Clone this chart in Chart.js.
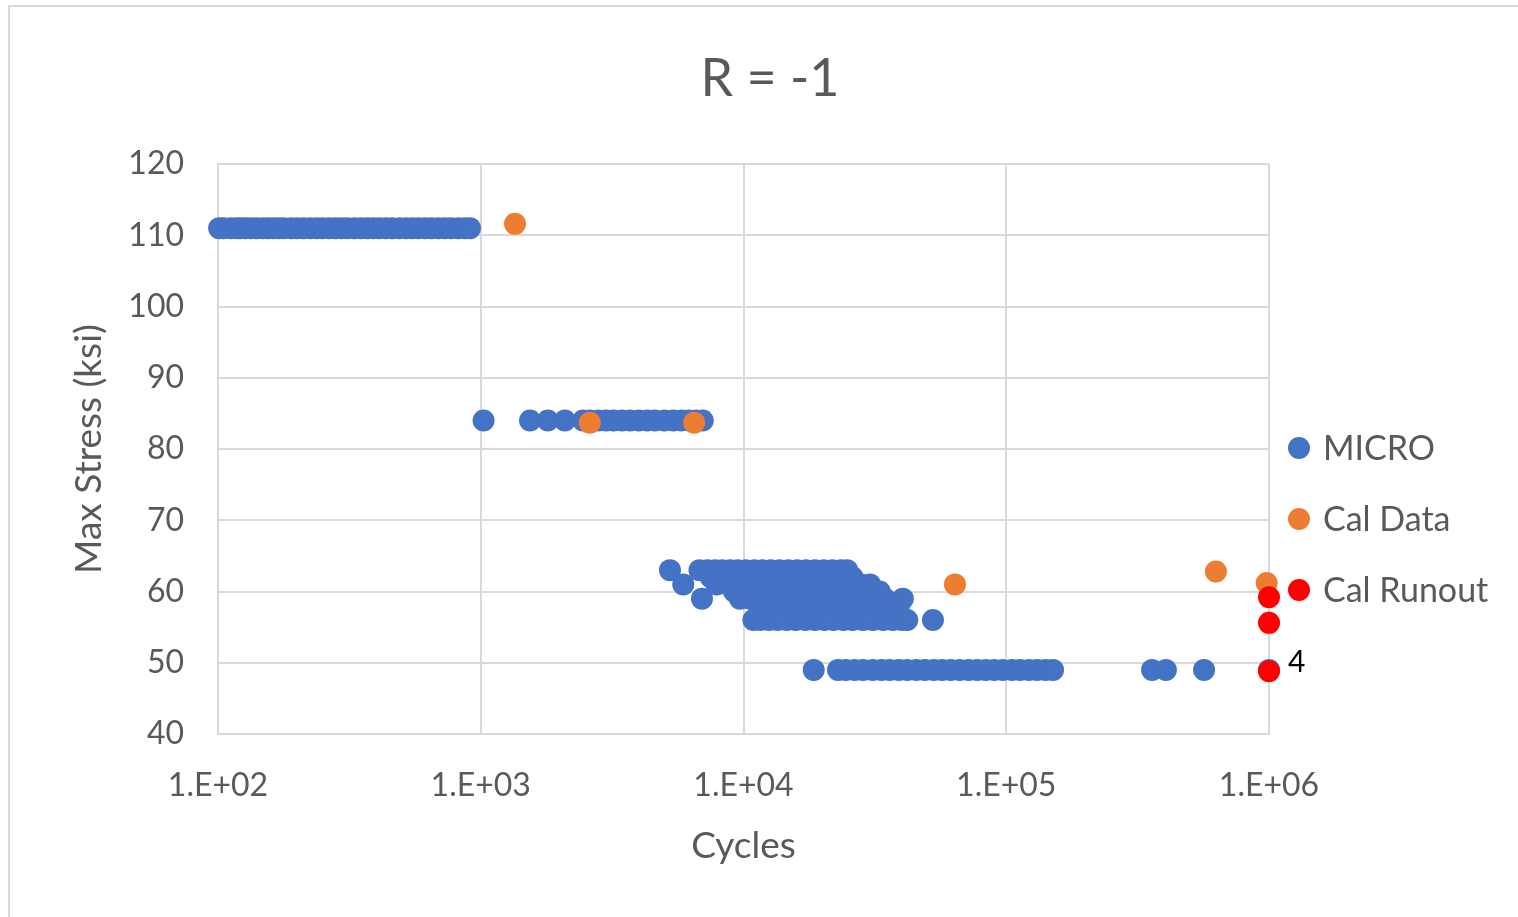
<!DOCTYPE html>
<html>
<head>
<meta charset="utf-8">
<script src="https://cdn.jsdelivr.net/npm/chart.js@4.4.1/dist/chart.umd.min.js"></script>
<style>
  html, body { margin: 0; padding: 0; background: #ffffff; overflow: hidden; width: 1518px; height: 917px; }
  #frame { position: absolute; left: 8px; top: 5px; width: 1530px; height: 930px; border: 2px solid #d9d9d9; box-sizing: border-box; background: #fff; }
  #c { position: absolute; left: 0px; top: 0px; }
</style>
</head>
<body>
<div id="frame"><canvas id="c" width="1508" height="910"></canvas></div>
<script>
// ---- data ----
const seriesNames = ['MICRO', 'Cal Data', 'Cal Runout'];
const xTickValues = [100, 1000, 10000, 100000, 1000000];
const xTickLabels = ['1.E+02', '1.E+03', '1.E+04', '1.E+05', '1.E+06'];
const yTickMin = 40, yTickMax = 120, yTickStep = 10;

// MICRO: cycles and stress (ksi)
const microCycles = [
  101,105,112,118,122,127,133,140,148,155,163,170,178,190,200,212,225,238,250,265,280,295,310,330,350,370,390,410,435,460,490,520,550,580,615,650,690,730,770,820,870,910,
  1025,1540,1800,2090,2450,2600,2800,3000,3200,3450,3700,4000,4300,4600,5000,5400,5800,6200,6600,7000,
  5250,6800,7300,7800,8300,8900,9500,10200,11000,11800,12700,13700,14800,16000,17300,18700,20200,21800,23500,24800,
  7500,8500,9800,11000,12500,14000,16000,18000,20500,23000,26000,
  5900,7900,8800,9800,10800,12000,13300,14800,16500,18500,20500,23000,25500,28000,30300,
  9200,10200,11500,13000,14500,16500,18500,21000,24000,27000,30000,33000,
  6950,9700,10600,11700,13000,14500,16000,18000,20000,22500,25000,28000,31000,34500,40400,
  11500,13000,15000,17000,19500,22000,25000,28500,32000,36000,39000,
  12000,14000,16000,18500,21000,24000,27500,31000,35000,39000,
  10900,11600,12500,13500,14600,15800,17200,18700,20300,22000,24000,26000,28500,31000,34000,37000,40000,42000,52600,
  18500,22900,24500,26500,28500,31000,33500,36000,39000,42000,45500,49000,53000,57000,61500,66500,72000,77500,83500,90000,97000,105000,113000,122000,131000,141000,150700,
  359000,405000,566000,1000000
];
const microStress = [
  111,111,111,111,111,111,111,111,111,111,111,111,111,111,111,111,111,111,111,111,111,111,111,111,111,111,111,111,111,111,111,111,111,111,111,111,111,111,111,111,111,111,
  84,84,84,84,84,84,84,84,84,84,84,84,84,84,84,84,84,84,84,84,
  63,63,63,63,63,63,63,63,63,63,63,63,63,63,63,63,63,63,63,63,
  62,62,62,62,62,62,62,62,62,62,62,
  61,61,61,61,61,61,61,61,61,61,61,61,61,61,61,
  60,60,60,60,60,60,60,60,60,60,60,60,
  59,59,59,59,59,59,59,59,59,59,59,59,59,59,59,
  58,58,58,58,58,58,58,58,58,58,58,
  57,57,57,57,57,57,57,57,57,57,
  56,56,56,56,56,56,56,56,56,56,56,56,56,56,56,56,56,56,56,
  49,49,49,49,49,49,49,49,49,49,49,49,49,49,49,49,49,49,49,49,49,49,49,49,49,49,49,
  49,49,49,49
];

// Cal Data
const calCycles = [1350, 2600, 6490, 63800, 628000, 980000];
const calStress = [111.6, 83.7, 83.7, 61.0, 62.8, 61.2];

// Cal Runout
const runoutCycles = [1000000, 1000000, 1000000];
const runoutStress = [59.2, 55.6, 48.8];

// annotation text near a runout point
const noteText = '4';
const notePoint = { x: 1000000, y: 49 };

// ---- styles ----
const colors = ['#4472C4', '#ED7D31', '#FF0000'];
const FONT = 'Lato, "Open Sans", sans-serif';
const gray = '#595959';
const gridColor = '#d9d9d9';

function zipPts(xs, ys) { return xs.map((x, i) => ({ x: x, y: ys[i] })); }

const legendPlugin = {
  id: 'sideLegend',
  afterDraw(chart) {
    const ctx = chart.ctx;
    const ca = chart.chartArea;
    ctx.save();
    ctx.font = '34px ' + FONT;
    ctx.textBaseline = 'middle';
    ctx.textAlign = 'left';
    const x0 = ca.right + 30;
    const y0 = 441;
    const gap = 71;
    chart.data.datasets.forEach((ds, i) => {
      const y = y0 + i * gap;
      ctx.beginPath();
      ctx.fillStyle = ds.backgroundColor;
      ctx.arc(x0, y, 11, 0, Math.PI * 2);
      ctx.fill();
      ctx.fillStyle = gray;
      ctx.fillText(ds.label, x0 + 24, y + 1);
    });
    // note label
    const xs = chart.scales.x, ys = chart.scales.y;
    ctx.fillStyle = '#000000';
    ctx.font = '30px ' + FONT;
    ctx.fillText(noteText, xs.getPixelForValue(notePoint.x) + 19, ys.getPixelForValue(notePoint.y) - 8);
    ctx.restore();
  }
};

const dsCommon = { borderWidth: 0, pointRadius: 11, pointHoverRadius: 11, clip: false };

new Chart(document.getElementById('c'), {
  type: 'scatter',
  data: {
    datasets: [
      Object.assign({ label: seriesNames[0], data: zipPts(microCycles, microStress), backgroundColor: colors[0], order: 2 }, dsCommon),
      Object.assign({ label: seriesNames[1], data: zipPts(calCycles, calStress), backgroundColor: colors[1], order: 1 }, dsCommon),
      Object.assign({ label: seriesNames[2], data: zipPts(runoutCycles, runoutStress), backgroundColor: colors[2], order: 0 }, dsCommon)
    ]
  },
  options: {
    responsive: false,
    animation: false,
    events: [],
    layout: { padding: { left: 12, right: 0, top: 0, bottom: 0 } },
    plugins: {
      legend: { display: false },
      tooltip: { enabled: false },
      title: {
        display: true,
        text: 'R = -1',
        color: gray,
        font: { family: FONT, size: 52, weight: 'normal' },
        padding: { top: 41, bottom: 53.6 }
      }
    },
    scales: {
      x: {
        type: 'logarithmic',
        min: xTickValues[0],
        max: xTickValues[xTickValues.length - 1],
        afterBuildTicks: (s) => { s.ticks = xTickValues.map(v => ({ value: v })); },
        afterFit: (s) => { s.height = 183; },
        ticks: {
          autoSkip: false, maxRotation: 0, minRotation: 0,
          color: gray, font: { family: FONT, size: 32 }, padding: 32,
          callback: (v, i) => xTickLabels[i]
        },
        grid: { color: gridColor, lineWidth: 2, drawTicks: false },
        border: { display: true, color: gridColor, width: 2 },
        title: { display: true, text: 'Cycles', color: gray, font: { family: FONT, size: 37 }, padding: { top: 0, bottom: 49 } }
      },
      y: {
        min: yTickMin, max: yTickMax,
        afterFit: (s) => { s.width = 196; },
        ticks: { stepSize: yTickStep, color: gray, font: { family: FONT, size: 32 }, padding: 34 },
        grid: { color: gridColor, lineWidth: 2, drawTicks: false },
        border: { display: true, color: gridColor, width: 2 },
        title: { display: true, text: 'Max Stress (ksi)', color: gray, font: { family: FONT, size: 37 }, padding: { top: 45, bottom: 0 } }
      },
      yRight: {
        position: 'right',
        display: true,
        afterFit: (s) => { s.width = 249; },
        ticks: { display: false },
        grid: { display: false, drawTicks: false },
        border: { display: false }
      }
    }
  },
  plugins: [legendPlugin]
});
</script>
</body>
</html>
